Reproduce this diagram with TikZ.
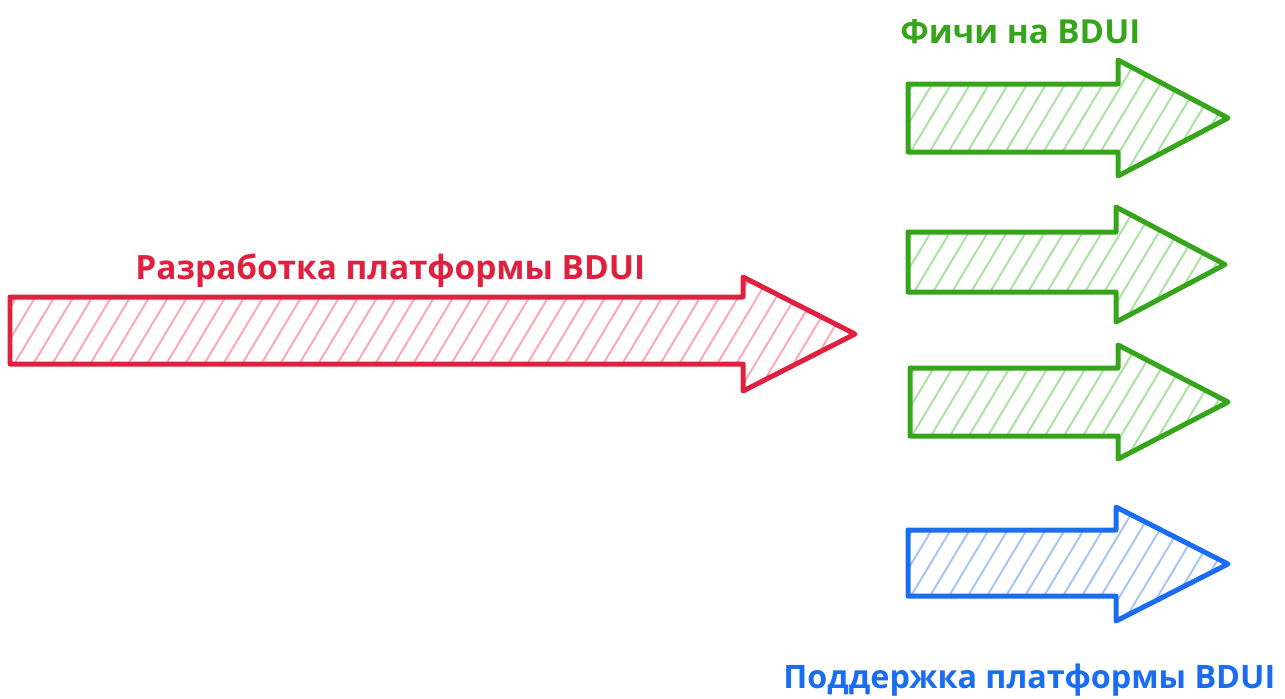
\documentclass[tikz,border=0pt]{standalone}
\usepackage{fontspec}
\setmainfont{Open Sans}
\usepackage{graphicx}
\definecolor{redS}{HTML}{E0203F}
\definecolor{redH}{HTML}{FFA9B6}
\definecolor{greenS}{HTML}{36A51C}
\definecolor{greenH}{HTML}{A8E3A0}
\definecolor{blueS}{HTML}{1A6CF2}
\definecolor{blueH}{HTML}{A6C6F4}
\tikzset{
  outline/.style={line width=0.1cm, line join=round, line cap=round},
  hatchline/.style={line width=0.04cm, line cap=round},
  label/.style={inner sep=0pt, anchor=base west, font=\bfseries}
}
% #1 stroke, #2 hatch, #3 left, #4 shaft top, #5 shaft bottom, #6 notch x, #7 head top, #8 head bottom, #9 tip x
\newcommand\hatcharrow[9]{%
  \begin{scope}
    \clip (#3,#4) -- (#6,#4) -- (#6,#7) -- (#9,{(#7+#8)/2}) -- (#6,#8) -- (#6,#5) -- (#3,#5) -- cycle;
    \foreach \k in {0,19,...,1000}
      \draw[hatchline,#2] ({#3-110+\k},{#8+5}) -- ++({0.6*(#8-#7+10)},{-(#8-#7+10)});
  \end{scope}
  \draw[outline,#1] (#3,#4) -- (#6,#4) -- (#6,#7) -- (#9,{(#7+#8)/2}) -- (#6,#8) -- (#6,#5) -- (#3,#5) -- cycle;
}
\begin{document}
\begin{tikzpicture}[x=0.02cm,y=-0.02cm]
  \fill[white] (0,0) rectangle (1285,698);
  \useasboundingbox (0,0) rectangle (1285,698);

  \hatcharrow{redS}{redH}{10}{297}{364}{743}{277}{391}{855}
  \hatcharrow{greenS}{greenH}{908}{84}{152}{1118}{60}{176}{1228}
  \hatcharrow{greenS}{greenH}{908}{232}{292}{1116}{207}{322}{1225}
  \hatcharrow{greenS}{greenH}{910}{368}{436}{1118}{345}{459}{1228}
  \hatcharrow{blueS}{blueH}{908}{530}{596}{1116}{507}{621}{1228}

  \node[label, text=redS] (dev) at (135,279) {\resizebox{10.2cm}{!}{Разработка платформы BDUI}};
  \node[label, text=greenS] (feat) at (900,43) {\resizebox{4.8cm}{!}{Фичи на BDUI}};
  \node[label, text=blueS] (supp) at (783,688) {\resizebox{9.84cm}{!}{Поддержка платформы BDUI}};
\end{tikzpicture}
\end{document}
